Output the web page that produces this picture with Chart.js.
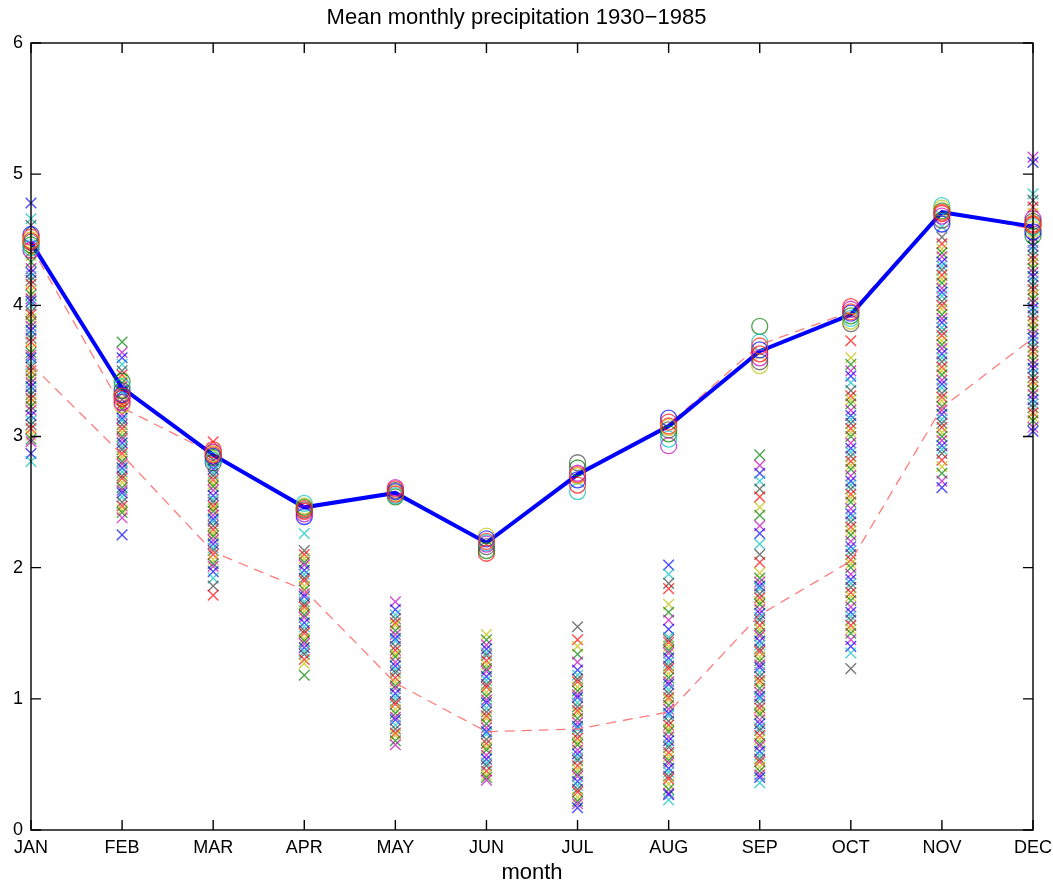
<!DOCTYPE html>
<html>
<head>
<meta charset="utf-8">
<script src="https://cdn.jsdelivr.net/npm/chart.js@4.4.1/dist/chart.umd.min.js"></script>
<style>
  body { margin: 0; background: #fff; }
  #wrap { width: 1053px; height: 884px; }
</style>
</head>
<body>
<div id="wrap"><canvas id="myChart"></canvas></div>
<script>
// months on the x axis
let months = ['JAN', 'FEB', 'MAR', 'APR', 'MAY', 'JUN', 'JUL', 'AUG', 'SEP', 'OCT', 'NOV', 'DEC'];

// mean monthly precipitation (thick blue line)
let meanPrecip = [4.48, 3.37, 2.86, 2.46, 2.57, 2.19, 2.71, 3.08, 3.65, 3.93, 4.71, 4.60];
// the two red dashed lines
let upperDashed = [4.45, 3.22, 2.87, 2.45, 2.58, 2.18, 2.72, 3.09, 3.70, 3.95, 4.72, 4.58];
let lowerDashed = [3.55, 2.86, 2.12, 1.83, 1.12, 0.75, 0.77, 0.90, 1.64, 2.05, 3.22, 3.75];

// yearly values, one list per month (x markers)
let yearValues = [
  [4.78, 4.66, 4.61, 4.41, 4.38, 4.33, 4.28, 4.25, 4.22, 4.19, 4.16, 4.11, 4.08, 4.05, 4.03, 4.0, 3.95, 3.93, 3.9, 3.87, 3.84, 3.81, 3.78, 3.75, 3.72, 3.67, 3.64, 3.62, 3.6, 3.55, 3.53, 3.5, 3.47, 3.44, 3.41, 3.38, 3.35, 3.32, 3.29, 3.26, 3.23, 3.2, 3.16, 3.12, 3.09, 3.06, 3.01, 2.98, 2.96, 2.87, 2.81],
  [3.72, 3.64, 3.6, 3.55, 3.5, 3.47, 3.44, 3.41, 3.38, 3.35, 3.33, 3.28, 3.25, 3.23, 3.21, 3.17, 3.14, 3.12, 3.09, 3.06, 3.03, 3.0, 2.98, 2.95, 2.92, 2.9, 2.87, 2.84, 2.81, 2.79, 2.76, 2.73, 2.7, 2.68, 2.65, 2.61, 2.59, 2.57, 2.54, 2.5, 2.47, 2.44, 2.42, 2.38, 2.25],
  [2.96, 2.9, 2.82, 2.78, 2.75, 2.72, 2.7, 2.67, 2.64, 2.62, 2.59, 2.55, 2.52, 2.5, 2.47, 2.45, 2.43, 2.4, 2.37, 2.35, 2.32, 2.29, 2.26, 2.24, 2.21, 2.18, 2.15, 2.13, 2.1, 2.06, 2.03, 2.01, 1.97, 1.92, 1.86, 1.79],
  [2.26, 2.13, 2.1, 2.07, 2.04, 2.02, 1.98, 1.95, 1.92, 1.9, 1.86, 1.83, 1.8, 1.78, 1.74, 1.72, 1.7, 1.67, 1.64, 1.62, 1.58, 1.55, 1.52, 1.5, 1.46, 1.44, 1.42, 1.39, 1.36, 1.34, 1.3, 1.27, 1.18],
  [1.74, 1.68, 1.64, 1.61, 1.58, 1.56, 1.52, 1.49, 1.46, 1.44, 1.4, 1.37, 1.34, 1.32, 1.28, 1.25, 1.22, 1.2, 1.16, 1.13, 1.1, 1.08, 1.04, 1.01, 0.98, 0.96, 0.92, 0.89, 0.86, 0.84, 0.8, 0.77, 0.74, 0.72, 0.68, 0.65],
  [1.49, 1.45, 1.41, 1.38, 1.35, 1.33, 1.29, 1.26, 1.23, 1.21, 1.17, 1.14, 1.11, 1.09, 1.05, 1.02, 0.99, 0.97, 0.93, 0.9, 0.87, 0.85, 0.81, 0.78, 0.75, 0.73, 0.69, 0.66, 0.63, 0.61, 0.57, 0.54, 0.51, 0.49, 0.45, 0.42, 0.4, 0.38],
  [1.55, 1.45, 1.4, 1.34, 1.28, 1.22, 1.18, 1.15, 1.13, 1.09, 1.06, 1.03, 1.01, 0.97, 0.94, 0.91, 0.89, 0.85, 0.82, 0.79, 0.77, 0.73, 0.7, 0.67, 0.65, 0.61, 0.58, 0.55, 0.53, 0.49, 0.46, 0.43, 0.41, 0.37, 0.34, 0.31, 0.29, 0.25, 0.22, 0.2, 0.17],
  [2.02, 1.95, 1.88, 1.84, 1.72, 1.66, 1.6, 1.53, 1.47, 1.45, 1.43, 1.4, 1.37, 1.35, 1.31, 1.28, 1.25, 1.23, 1.19, 1.16, 1.13, 1.11, 1.07, 1.04, 1.01, 0.99, 0.95, 0.92, 0.89, 0.87, 0.83, 0.8, 0.77, 0.75, 0.71, 0.68, 0.65, 0.63, 0.59, 0.56, 0.53, 0.51, 0.47, 0.44, 0.41, 0.39, 0.35, 0.31, 0.28, 0.27, 0.23],
  [2.86, 2.78, 2.72, 2.66, 2.6, 2.54, 2.46, 2.4, 2.32, 2.26, 2.18, 2.1, 2.04, 1.96, 1.92, 1.89, 1.86, 1.84, 1.8, 1.77, 1.74, 1.72, 1.68, 1.65, 1.62, 1.6, 1.56, 1.53, 1.5, 1.48, 1.44, 1.41, 1.38, 1.36, 1.32, 1.29, 1.26, 1.24, 1.2, 1.17, 1.14, 1.12, 1.08, 1.05, 1.02, 1.0, 0.96, 0.93, 0.9, 0.88, 0.84, 0.81, 0.78, 0.76, 0.72, 0.69, 0.66, 0.64, 0.6, 0.57, 0.54, 0.52, 0.48, 0.45, 0.42, 0.4, 0.36],
  [3.73, 3.6, 3.55, 3.5, 3.46, 3.41, 3.35, 3.31, 3.28, 3.25, 3.2, 3.16, 3.13, 3.1, 3.06, 3.03, 3.0, 2.95, 2.91, 2.88, 2.85, 2.81, 2.78, 2.75, 2.7, 2.66, 2.63, 2.6, 2.56, 2.53, 2.5, 2.45, 2.41, 2.38, 2.35, 2.31, 2.28, 2.25, 2.2, 2.16, 2.13, 2.1, 2.06, 2.03, 2.0, 1.95, 1.91, 1.88, 1.85, 1.81, 1.78, 1.75, 1.7, 1.66, 1.63, 1.6, 1.56, 1.53, 1.5, 1.45, 1.4, 1.35, 1.23],
  [4.6, 4.52, 4.47, 4.43, 4.4, 4.37, 4.33, 4.3, 4.27, 4.23, 4.2, 4.17, 4.13, 4.1, 4.07, 4.03, 4.0, 3.97, 3.93, 3.9, 3.87, 3.83, 3.8, 3.77, 3.73, 3.7, 3.67, 3.63, 3.6, 3.57, 3.53, 3.5, 3.47, 3.43, 3.4, 3.37, 3.33, 3.3, 3.27, 3.23, 3.2, 3.17, 3.13, 3.1, 3.07, 3.03, 3.0, 2.97, 2.93, 2.9, 2.87, 2.82, 2.77, 2.72, 2.66, 2.61],
  [5.13, 5.09, 4.85, 4.8, 4.75, 4.7, 4.52, 4.48, 4.45, 4.42, 4.38, 4.35, 4.32, 4.28, 4.25, 4.22, 4.18, 4.15, 4.12, 4.08, 4.05, 4.02, 3.98, 3.95, 3.92, 3.88, 3.85, 3.82, 3.78, 3.75, 3.72, 3.68, 3.65, 3.62, 3.58, 3.55, 3.52, 3.48, 3.45, 3.42, 3.38, 3.35, 3.32, 3.28, 3.25, 3.22, 3.18, 3.15, 3.12, 3.07, 3.04]
];

// resampled means, one list per month (circles)
let circleValues = [
  [4.54, 4.52, 4.42, 4.48, 4.46, 4.44, 4.5, 4.49],
  [3.42, 3.38, 3.24, 3.32, 3.29, 3.26, 3.35, 3.31],
  [2.9, 2.88, 2.8, 2.84, 2.82, 2.87, 2.85, 2.86],
  [2.49, 2.47, 2.39, 2.43, 2.41, 2.44, 2.46, 2.45],
  [2.61, 2.59, 2.54, 2.55, 2.57, 2.58, 2.56, 2.6],
  [2.24, 2.22, 2.11, 2.18, 2.16, 2.13, 2.19, 2.2],
  [2.8, 2.76, 2.58, 2.7, 2.67, 2.63, 2.72, 2.71],
  [3.14, 3.11, 2.93, 3.05, 3.02, 2.98, 3.07, 3.08],
  [3.84, 3.72, 3.54, 3.66, 3.63, 3.6, 3.57, 3.69],
  [3.99, 3.97, 3.86, 3.92, 3.9, 3.88, 3.94, 3.95],
  [4.76, 4.74, 4.62, 4.7, 4.68, 4.65, 4.72, 4.71],
  [4.66, 4.64, 4.53, 4.6, 4.58, 4.56, 4.62, 4.61]
];

// matlab style colour order
let palette = [
  'rgba(0, 0, 255, 0.7)',
  'rgba(0, 128, 0, 0.7)',
  'rgba(255, 0, 0, 0.7)',
  'rgba(0, 191, 191, 0.7)',
  'rgba(191, 0, 191, 0.7)',
  'rgba(191, 191, 0, 0.7)',
  'rgba(64, 64, 64, 0.7)'
];

let crossPts = [];
let crossCols = [];
for (let m = 0; m < yearValues.length; m++) {
  for (let j = 0; j < yearValues[m].length; j++) {
    crossPts.push({x: m + 1, y: yearValues[m][j]});
    crossCols.push(palette[(j * 3 + m) % palette.length]);
  }
}

let circlePts = [];
let circleCols = [];
for (let m = 0; m < circleValues.length; m++) {
  for (let j = 0; j < circleValues[m].length; j++) {
    circlePts.push({x: m + 1, y: circleValues[m][j]});
    circleCols.push(j == circleValues[m].length - 1 ? 'rgba(255, 60, 40, 0.8)' : palette[(j * 2 + m) % palette.length]);
  }
}

function toPts(arr) {
  return arr.map((v, i) => ({x: i + 1, y: v}));
}

// box round the plot with ticks pointing inward
const boxTicks = {
  id: 'boxTicks',
  afterDatasetsDraw(chart) {
    let ctx = chart.ctx;
    let a = chart.chartArea;
    let x = chart.scales.x;
    let y = chart.scales.y;
    ctx.save();
    ctx.strokeStyle = '#000';
    ctx.lineWidth = 1.4;
    ctx.strokeRect(a.left, a.top, a.right - a.left, a.bottom - a.top);
    ctx.beginPath();
    x.ticks.forEach(t => {
      let px = x.getPixelForValue(t.value);
      ctx.moveTo(px, a.bottom); ctx.lineTo(px, a.bottom - 10);
      ctx.moveTo(px, a.top); ctx.lineTo(px, a.top + 10);
    });
    y.ticks.forEach(t => {
      let py = y.getPixelForValue(t.value);
      ctx.moveTo(a.left, py); ctx.lineTo(a.left + 10, py);
      ctx.moveTo(a.right, py); ctx.lineTo(a.right - 10, py);
    });
    ctx.stroke();
    ctx.restore();
  }
};

let font = "'Liberation Sans', Arial, Helvetica, sans-serif";
Chart.defaults.font.family = font;
Chart.defaults.color = '#000';

let ctx = document.getElementById('myChart').getContext('2d');
let myChart = new Chart(ctx, {
  type: 'scatter',
  data: {
    datasets: [
      {
        data: circlePts,
        pointStyle: 'circle',
        pointRadius: 8,
        pointBorderWidth: 1.3,
        pointBorderColor: circleCols,
        pointBackgroundColor: 'rgba(0,0,0,0)',
        clip: false
      },
      {
        type: 'line',
        data: toPts(meanPrecip),
        borderColor: '#0000ff',
        borderWidth: 4,
        pointRadius: 0,
        clip: false
      },
      {
        type: 'line',
        data: toPts(upperDashed),
        borderColor: 'rgba(255, 110, 110, 0.9)',
        borderWidth: 1.3,
        borderDash: [10, 7],
        pointRadius: 0,
        clip: false
      },
      {
        type: 'line',
        data: toPts(lowerDashed),
        borderColor: 'rgba(255, 110, 110, 0.9)',
        borderWidth: 1.3,
        borderDash: [10, 7],
        pointRadius: 0,
        clip: false
      },
      {
        data: crossPts,
        pointStyle: 'crossRot',
        pointRadius: 7.5,
        pointBorderWidth: 1.4,
        pointBorderColor: crossCols,
        clip: false
      }
    ]
  },
  options: {
    responsive: true,
    maintainAspectRatio: false,
    animation: false,
    layout: {padding: {left: 0, right: 20, top: 0, bottom: 0}},
    plugins: {
      legend: {display: false},
      tooltip: {enabled: false},
      title: {
        display: true,
        text: 'Mean monthly precipitation 1930\u22121985',
        color: '#000',
        font: {size: 22, weight: 'normal', lineHeight: 1},
        padding: {top: 7, bottom: 14}
      }
    },
    scales: {
      x: {
        type: 'linear',
        min: 1,
        max: 12,
        grid: {display: false, drawTicks: false},
        border: {display: false},
        ticks: {
          stepSize: 1,
          autoSkip: false,
          maxRotation: 0,
          padding: 7,
          font: {size: 18},
          callback: v => months[v - 1]
        },
        title: {display: true, text: 'month', font: {size: 22, lineHeight: 1}, padding: 0},
        afterFit: s => { s.height = 54; s.paddingLeft = 0; s.paddingRight = 0; }
      },
      y: {
        min: 0,
        max: 6,
        grid: {display: false, drawTicks: false},
        border: {display: false},
        ticks: {stepSize: 1, padding: 8, font: {size: 18}},
        afterFit: s => { s.width = 31; s.paddingTop = 0; s.paddingBottom = 0; }
      }
    }
  },
  plugins: [boxTicks]
});
</script>
</body>
</html>
